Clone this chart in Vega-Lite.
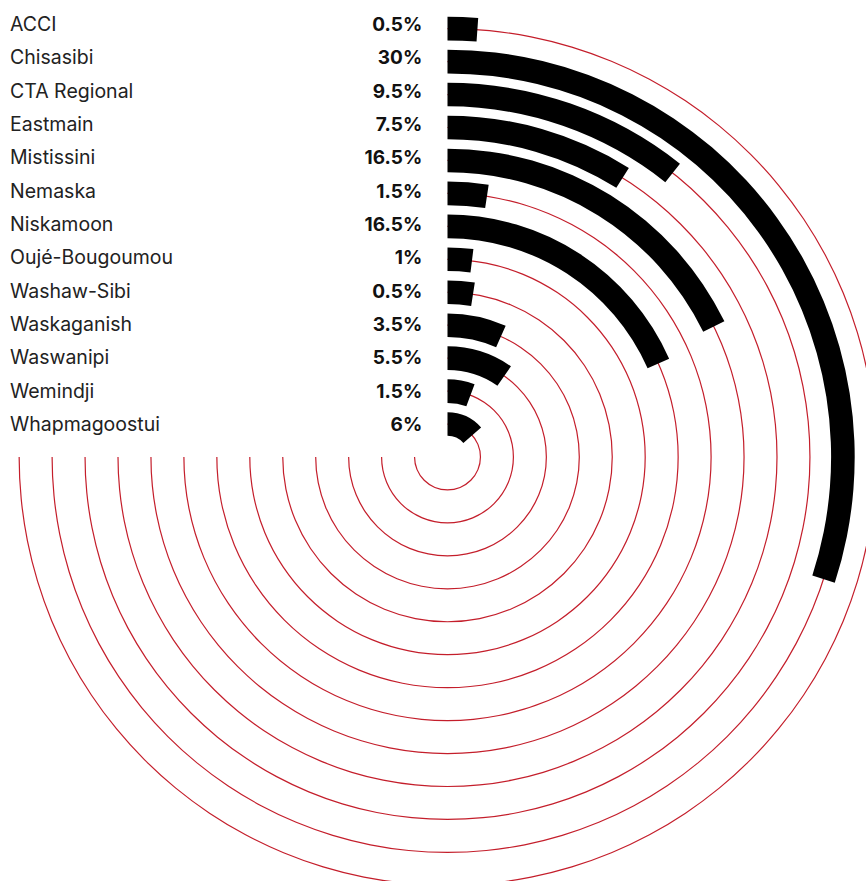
{
  "$schema": "https://vega.github.io/schema/vega-lite/v6.json",
  "width": 895,
  "height": 914,
  "padding": 0,
  "autosize": {"type": "none"},
  "background": "white",
  "config": {"view": {"stroke": null}},
  "data": {
    "values": [
      {"name": "ACCI", "pct": "0.5%", "rank": 13, "sweep": 4.0},
      {"name": "Chisasibi", "pct": "30%", "rank": 12, "sweep": 108.0},
      {"name": "CTA Regional", "pct": "9.5%", "rank": 11, "sweep": 38.4},
      {"name": "Eastmain", "pct": "7.5%", "rank": 10, "sweep": 32.1},
      {"name": "Mistissini", "pct": "16.5%", "rank": 9, "sweep": 63.9},
      {"name": "Nemaska", "pct": "1.5%", "rank": 8, "sweep": 8.6},
      {"name": "Niskamoon", "pct": "16.5%", "rank": 7, "sweep": 66.1},
      {"name": "Oujé-Bougoumou", "pct": "1%", "rank": 6, "sweep": 7.1},
      {"name": "Washaw-Sibi", "pct": "0.5%", "rank": 5, "sweep": 8.9},
      {"name": "Waskaganish", "pct": "3.5%", "rank": 4, "sweep": 23.9},
      {"name": "Waswanipi", "pct": "5.5%", "rank": 3, "sweep": 35.0},
      {"name": "Wemindji", "pct": "1.5%", "rank": 2, "sweep": 20.4},
      {"name": "Whapmagoostui", "pct": "6%", "rank": 1, "sweep": 48.7}
    ]
  },
  "layer": [
    {
      "mark": {"type": "arc", "color": "#c41e2b", "radiusOffset": 0.6, "radius2Offset": -0.6},
      "encoding": {
        "theta": {"datum": 0, "type": "quantitative", "stack": null, "scale": {"domain": [0, 360], "range": [0, 6.283185307], "nice": false, "zero": false}},
        "theta2": {"datum": 270},
        "radius": {"field": "rank", "type": "quantitative", "scale": {"type": "linear", "domain": [0, 13], "range": [0, 428.35], "nice": false, "zero": false}},
        "radius2": {"field": "rank"}
      }
    },
    {
      "mark": {"type": "arc", "color": "#000000", "radiusOffset": 11.8, "radius2Offset": -11.8},
      "encoding": {
        "theta": {"field": "sweep", "type": "quantitative", "stack": null},
        "theta2": {"datum": 0},
        "radius": {"field": "rank", "type": "quantitative"},
        "radius2": {"field": "rank"}
      }
    },
    {
      "mark": {"type": "text", "align": "left", "baseline": "alphabetic", "fontSize": 19.5, "font": "Inter", "color": "#222222"},
      "encoding": {
        "x": {"datum": -437.5, "type": "quantitative", "scale": {"domain": [-447.5, 447.5], "nice": false, "zero": false}, "axis": null},
        "y": {"field": "rank", "type": "quantitative", "scale": {"domain": [-13.49, 13.93], "nice": false, "zero": false}, "axis": null},
        "text": {"field": "name"}
      }
    },
    {
      "mark": {"type": "text", "align": "right", "baseline": "alphabetic", "fontSize": 19, "font": "Inter", "fontWeight": "bold", "color": "#111111"},
      "encoding": {
        "x": {"datum": -25.3, "type": "quantitative"},
        "y": {"field": "rank", "type": "quantitative"},
        "text": {"field": "pct"}
      }
    }
  ]
}
